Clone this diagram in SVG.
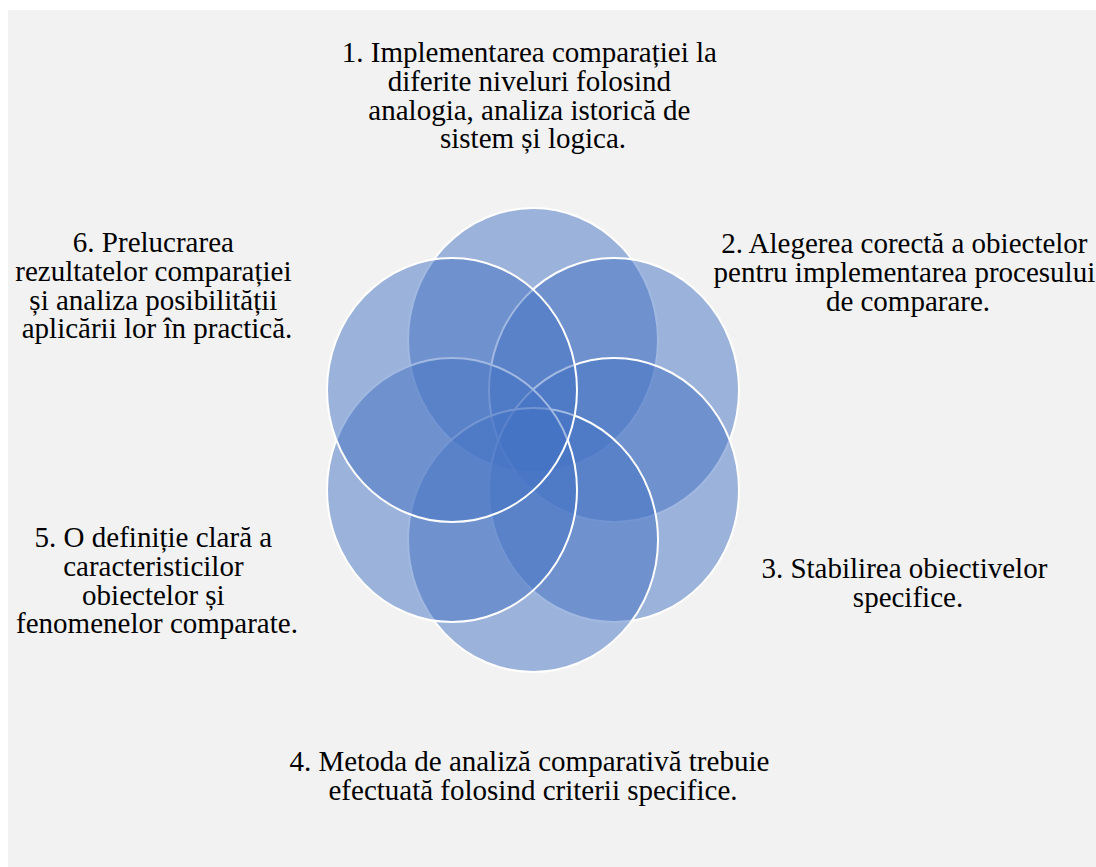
<svg xmlns="http://www.w3.org/2000/svg" width="1096" height="867" viewBox="0 0 1096 867">
  <style>
    .petal { fill: #4472c4; fill-opacity: 0.5; stroke: #ffffff; stroke-width: 2; }
    .label { font-family: "Liberation Serif", "Times New Roman", serif; font-size: 29px; fill: #000000; text-anchor: middle; }
  </style>
  <!-- page background -->
  <rect x="8" y="10" width="1088" height="857" fill="#f2f2f2"/>

  <g id="connectors"/>

  <!-- six overlapping petals around (533,440) -->
  <g id="node1">
    <ellipse class="petal" cx="533" cy="340" rx="125" ry="132"/>
    <text class="label" x="533" y="62">
      <tspan x="533">1. Implementarea comparației la</tspan>
      <tspan x="533" dy="28.8">diferite niveluri folosind</tspan>
      <tspan x="533" dy="28.8">analogia, analiza istorică de</tspan>
      <tspan x="533" dy="28.8">sistem și logica.</tspan>
    </text>
  </g>
  <g id="node2">
    <ellipse class="petal" cx="614" cy="390" rx="125" ry="132"/>
    <text class="label" x="908" y="253">
      <tspan x="908">2. Alegerea corectă a obiectelor</tspan>
      <tspan x="908" dy="28.8">pentru implementarea procesului</tspan>
      <tspan x="908" dy="28.8">de comparare.</tspan>
    </text>
  </g>
  <g id="node3">
    <ellipse class="petal" cx="614" cy="490" rx="125" ry="132"/>
    <text class="label" x="908" y="578">
      <tspan x="908">3. Stabilirea obiectivelor</tspan>
      <tspan x="908" dy="28.8">specifice.</tspan>
    </text>
  </g>
  <g id="node4">
    <ellipse class="petal" cx="533" cy="540" rx="125" ry="132"/>
    <text class="label" x="533" y="771">
      <tspan x="533">4. Metoda de analiză comparativă trebuie</tspan>
      <tspan x="533" dy="28.8">efectuată folosind criterii specifice.</tspan>
    </text>
  </g>
  <g id="node5">
    <ellipse class="petal" cx="452" cy="490" rx="125" ry="132"/>
    <text class="label" x="157" y="547">
      <tspan x="157">5. O definiție clară a</tspan>
      <tspan x="157" dy="28.8">caracteristicilor</tspan>
      <tspan x="157" dy="28.8">obiectelor și</tspan>
      <tspan x="157" dy="28.8">fenomenelor comparate.</tspan>
    </text>
  </g>
  <g id="node6">
    <ellipse class="petal" cx="452" cy="390" rx="125" ry="132"/>
    <text class="label" x="157" y="252">
      <tspan x="157">6. Prelucrarea</tspan>
      <tspan x="157" dy="28.8">rezultatelor comparației</tspan>
      <tspan x="157" dy="28.8">și analiza posibilității</tspan>
      <tspan x="157" dy="28.8">aplicării lor în practică.</tspan>
    </text>
  </g>
</svg>
